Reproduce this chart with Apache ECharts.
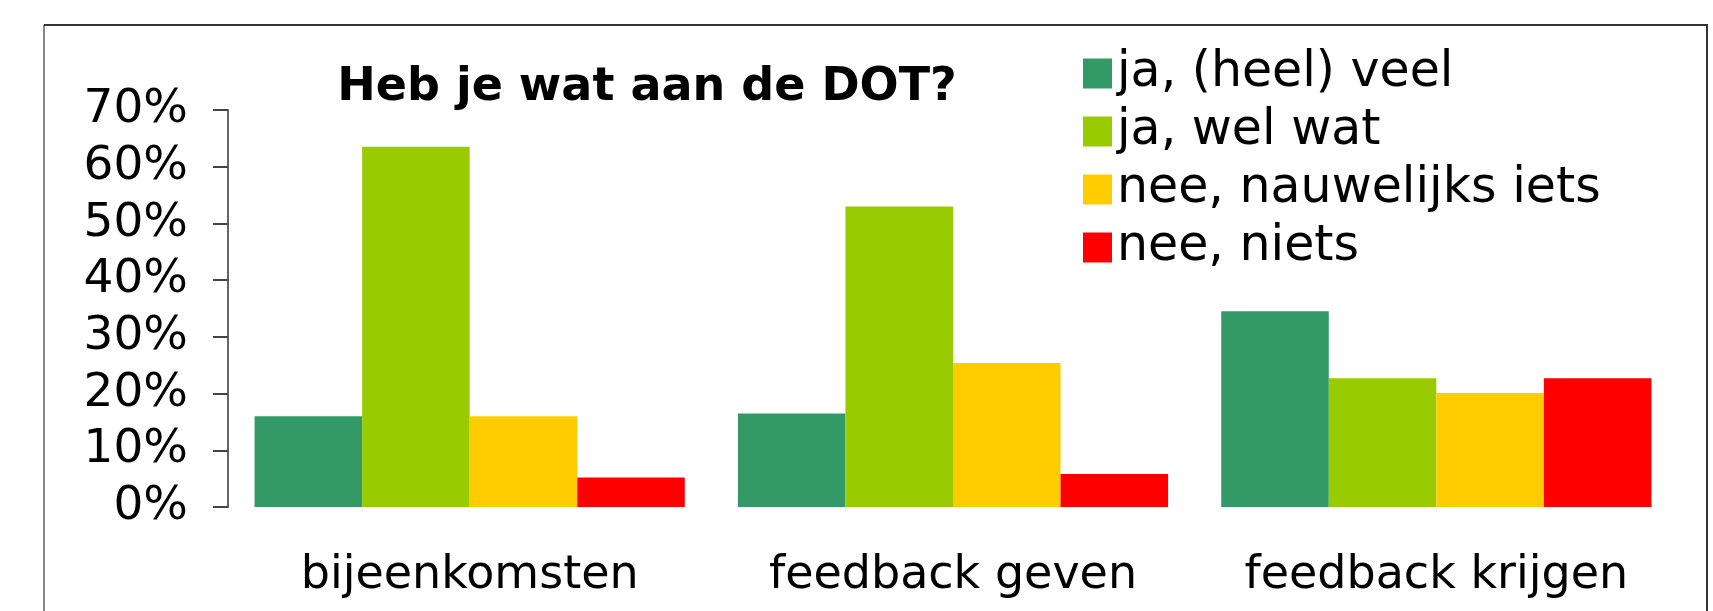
<!DOCTYPE html>
<html>
<head>
<meta charset="utf-8">
<script src="https://cdn.jsdelivr.net/npm/echarts@6/dist/echarts.min.js"></script>
<style>
  html, body { margin: 0; padding: 0; background: #fff; }
  #chart { width: 1713px; height: 611px; }
</style>
</head>
<body>
<div id="chart"></div>
<script>
// categories on the x axis
const categories = ['bijeenkomsten', 'feedback geven', 'feedback krijgen']
// answer series, values in percent
const seriesNames = ['ja, (heel) veel', 'ja, wel wat', 'nee, nauwelijks iets', 'nee, niets']
const heelVeel = [16.0, 16.5, 34.5]
const welWat = [63.5, 53.0, 22.7]
const nauwelijks = [16.0, 25.4, 20.1]
const niets = [5.2, 5.8, 22.7]
const colors = ['#339966', '#99cc00', '#ffcc00', '#ff0000']

const font = 'DejaVu Sans, Verdana, sans-serif'

let myChart = echarts.init(document.getElementById('chart'))
myChart.setOption({
  backgroundColor: '#fff',
  color: colors,
  animation: false,
  title: {
    text: 'Heb je wat aan de DOT?',
    left: 647,
    textAlign: 'center',
    top: 65,
    padding: 0,
    textStyle: {
      fontFamily: font,
      fontWeight: 'bold',
      fontSize: 46,
      color: '#000'
    }
  },
  legend: {
    orient: 'vertical',
    left: 1083,
    top: 49,
    padding: 0,
    itemWidth: 29,
    itemHeight: 30,
    itemGap: 9,
    icon: 'rect',
    textStyle: {
      fontFamily: font,
      fontSize: 49,
      lineHeight: 47,
      color: '#000',
      padding: [0, 0, 0, 0]
    },
    data: seriesNames
  },
  graphic: [
    {
      type: 'polyline',
      shape: { points: [[44, 611], [44, 25]] },
      style: { stroke: '#888', lineWidth: 2, fill: null }
    },
    {
      type: 'polyline',
      shape: { points: [[44, 25], [1707, 25], [1707, 611]] },
      style: { stroke: '#333', lineWidth: 2, fill: null }
    }
  ],
  grid: {
    left: 228,
    right: 35,
    top: 110,
    bottom: 104
  },
  xAxis: {
    type: 'category',
    data: categories,
    axisLine: { show: false },
    axisTick: { show: false },
    axisLabel: {
      interval: 0,
      margin: 46,
      fontFamily: font,
      fontSize: 46,
      color: '#000'
    }
  },
  yAxis: {
    type: 'value',
    min: 0,
    max: 70,
    interval: 10,
    axisLine: { show: true, lineStyle: { color: '#666', width: 2 } },
    axisTick: { show: true, length: 15, lineStyle: { color: '#444', width: 2 } },
    splitLine: { show: false },
    axisLabel: {
      margin: 40,
      fontFamily: font,
      fontSize: 47,
      color: '#000',
      formatter: '{value}%'
    }
  },
  series: [
    { name: seriesNames[0], type: 'bar', data: heelVeel, barGap: 0, barCategoryGap: '11%' },
    { name: seriesNames[1], type: 'bar', data: welWat, barGap: 0, barCategoryGap: '11%' },
    { name: seriesNames[2], type: 'bar', data: nauwelijks, barGap: 0, barCategoryGap: '11%' },
    { name: seriesNames[3], type: 'bar', data: niets, barGap: 0, barCategoryGap: '11%' }
  ]
})
</script>
</body>
</html>
